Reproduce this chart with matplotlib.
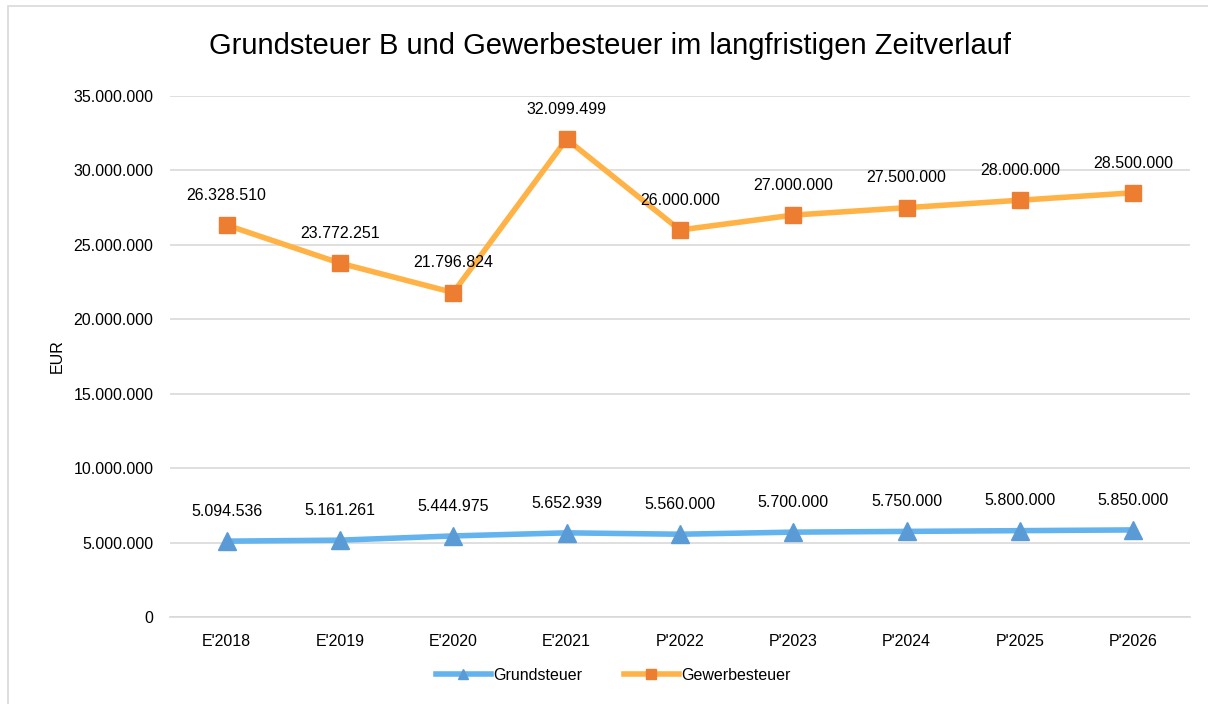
import matplotlib.pyplot as plt
from matplotlib.patches import Rectangle
from matplotlib.ticker import FuncFormatter

plt.rcParams['font.family'] = ['Liberation Sans', 'DejaVu Sans']

# Daten
jahre = ["E'2018", "E'2019", "E'2020", "E'2021", "P'2022", "P'2023", "P'2024", "P'2025", "P'2026"]
grundsteuer = [5094536, 5161261, 5444975, 5652939, 5560000, 5700000, 5750000, 5800000, 5850000]
gewerbesteuer = [26328510, 23772251, 21796824, 32099499, 26000000, 27000000, 27500000, 28000000, 28500000]


def de_format(v):
    return f"{int(round(v)):,}".replace(",", ".")


fig = plt.figure(figsize=(12.08, 7.04), dpi=100)
ax = fig.add_axes([0.1407, 0.1236, 0.8443, 0.74])

# Rahmen um das Diagramm
fig.patches.append(Rectangle((8 / 1208, -0.02), 1.1, 1 - 6 / 704 + 0.02, transform=fig.transFigure,
                             fill=False, edgecolor='#d9d9d9', linewidth=1.2))

x = range(len(jahre))
ax.plot(x, grundsteuer, color='#63b3ef', linewidth=4, marker='^', markersize=13,
        markerfacecolor='#5b9bd5', markeredgecolor='#5b9bd5', label='Grundsteuer', zorder=3)
ax.plot(x, gewerbesteuer, color='#ffb347', linewidth=4, marker='s', markersize=12,
        markerfacecolor='#ed7d31', markeredgecolor='#ed7d31', label='Gewerbesteuer', zorder=3)

for i in x:
    ax.annotate(de_format(grundsteuer[i]), (i, grundsteuer[i]), xytext=(0, 16), textcoords='offset points',
                ha='center', va='bottom', fontsize=11.5)
    ax.annotate(de_format(gewerbesteuer[i]), (i, gewerbesteuer[i]), xytext=(0, 16), textcoords='offset points',
                ha='center', va='bottom', fontsize=11.5)

ax.set_xlim(-0.5, len(jahre) - 0.5)
ax.set_ylim(0, 35000000)
ax.set_yticks(range(0, 35000001, 5000000))
ax.yaxis.set_major_formatter(FuncFormatter(lambda v, p: de_format(v)))
ax.set_xticks(list(x))
ax.set_xticklabels(jahre)
ax.tick_params(axis='both', length=0, labelsize=11.5, pad=12)
ax.grid(axis='y', color='#d9d9d9', linewidth=1.2)
ax.set_axisbelow(True)
for s in ['top', 'right', 'left']:
    ax.spines[s].set_visible(False)
ax.spines['bottom'].set_color('#d9d9d9')
ax.spines['bottom'].set_linewidth(1.2)

ax.set_ylabel('EUR', fontsize=11.5, labelpad=6)
fig.text(0.505, 0.935, 'Grundsteuer B und Gewerbesteuer im langfristigen Zeitverlauf', ha='center', va='center',
         fontsize=21)

fig.legend(loc='center', bbox_to_anchor=(0.508, 0.041), ncol=2, frameon=False, fontsize=11.5,
           handlelength=3.4, columnspacing=2.6, handletextpad=0.2, markerscale=0.6)

fig.savefig('out.png', dpi=100)
